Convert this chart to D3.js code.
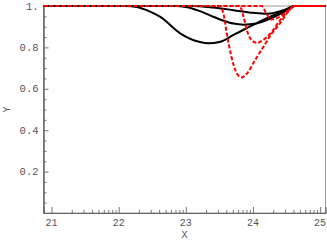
<!DOCTYPE html>
<html>
<head>
<meta charset="utf-8">
<script src="https://cdn.jsdelivr.net/npm/d3@7"></script>
<style>
  body { margin: 0; background: #fff; }
  text { font-family: 'Liberation Mono', 'DejaVu Sans Mono', monospace; }
</style>
</head>
<body>
<div id="vis"></div>
<script>

var width = 327,
  height = 245;

var margin = { top: 6, right: 1.5, bottom: 32, left: 43.5 };

// Data
var xTicks = [ 21, 22, 23, 24, 25 ];
var xTickLabels = [ '21', '22', '23', '24', '25' ];
var yTicks = [ 0.2, 0.4, 0.6, 0.8, 1.0 ];
var yTickLabels = [ '0.2', '0.4', '0.6', '0.8', '1.' ];

var blackX1 = [ 20.88, 22.1, 22.27, 22.45, 22.62, 22.92, 23.21, 23.34, 23.5, 23.71, 23.95, 24.2, 24.45, 24.62, 25.08 ];
var blackY1 = [ 1, 1, 0.995, 0.975, 0.947, 0.867, 0.826, 0.82, 0.826, 0.86, 0.9, 0.94, 0.975, 1, 1 ];

var blackX2 = [ 20.88, 22.85, 23.0, 23.21, 23.36, 23.55, 23.71, 23.86, 24.05, 24.3, 24.5, 24.62, 25.08 ];
var blackY2 = [ 1, 1, 0.995, 0.975, 0.955, 0.93, 0.915, 0.91, 0.915, 0.945, 0.978, 1, 1 ];

var blackX3 = [ 20.88, 23.1, 23.4, 23.71, 24.0, 24.2, 24.35, 24.5, 24.62, 25.08 ];
var blackY3 = [ 1, 1, 0.993, 0.98, 0.967, 0.962, 0.97, 0.985, 1, 1 ];

var redX1 = [ 20.88, 23.5, 23.56, 23.61, 23.68, 23.76, 23.83, 23.93, 24.03, 24.15, 24.28, 24.4, 24.52, 24.62, 25.08 ];
var redY1 = [ 1, 1, 0.963, 0.867, 0.754, 0.674, 0.655, 0.682, 0.738, 0.8, 0.867, 0.915, 0.97, 1, 1 ];

var redX2 = [ 20.88, 23.8, 23.86, 23.91, 23.96, 24.06, 24.15, 24.28, 24.4, 24.52, 24.62, 25.08 ];
var redY2 = [ 1, 1, 0.947, 0.883, 0.843, 0.822, 0.835, 0.875, 0.93, 0.975, 1, 1 ];

var redX3 = [ 20.88, 24.13, 24.2, 24.27, 24.35, 24.45, 24.55, 24.62, 25.08 ];
var redY3 = [ 1, 1, 0.963, 0.935, 0.94, 0.96, 0.985, 1, 1 ];

var blackSeries = [ [ blackX1, blackY1 ], [ blackX2, blackY2 ], [ blackX3, blackY3 ] ];
var redSeries = [ [ redX1, redY1 ], [ redX2, redY2 ], [ redX3, redY3 ] ];

/* Scales */

var x = d3.scaleLinear()
  .domain( [ 20.88, 25.08 ] )
  .range( [ margin.left, width - margin.right ] );

var y = d3.scaleLinear()
  .domain( [ 0, 1 ] )
  .range( [ height - margin.bottom, margin.top ] );

// log-style minor ticks within each unit on x, 0.05 steps on y
var xMinor = [];
xTicks.slice( 0, -1 ).forEach( t => {
  d3.range( 2, 10 ).forEach( k => xMinor.push( t + Math.log10( k ) ) );
} );
var yMinor = d3.range( 1, 20 ).map( i => i * 0.05 ).filter( v => Math.abs( v * 5 - Math.round( v * 5 ) ) > 1e-6 );

var line = d3.line()
  .x( d => x( d[ 0 ] ) )
  .y( d => y( d[ 1 ] ) )
  .curve( d3.curveMonotoneX );

function toPoints( s ) {
  return s[ 0 ].map( ( v, i ) => [ v, s[ 1 ][ i ] ] );
}

/* Drawing */

var svg = d3.select( '#vis' ).append( 'svg' )
  .attr( 'width', width )
  .attr( 'height', height );

// frame
svg.append( 'rect' )
  .attr( 'x', x.range()[ 0 ] )
  .attr( 'y', y.range()[ 1 ] )
  .attr( 'width', x.range()[ 1 ] - x.range()[ 0 ] )
  .attr( 'height', y.range()[ 0 ] - y.range()[ 1 ] )
  .attr( 'fill', 'none' )
  .attr( 'stroke', '#999' )
  .attr( 'stroke-width', 1 );

// x axis (ticks point inward)
var xAxis = svg.append( 'g' )
  .attr( 'transform', 'translate(0,' + y.range()[ 0 ] + ')' );

xAxis.call( d3.axisTop( x ).tickValues( xMinor ).tickSize( 3 ).tickFormat( '' ) );
xAxis.append( 'g' )
  .call( d3.axisTop( x ).tickValues( xTicks ).tickSize( 6 ).tickFormat( '' ) );
xAxis.selectAll( '.domain' ).attr( 'stroke', '#666' );
xAxis.selectAll( '.tick line' ).attr( 'stroke', '#777' );

svg.append( 'g' )
  .selectAll( 'text.xlabel' )
  .data( xTicks )
  .enter().append( 'text' )
    .attr( 'class', 'xlabel' )
    .attr( 'x', d => x( d ) )
    .attr( 'y', y.range()[ 0 ] + 13 )
    .attr( 'text-anchor', 'middle' )
    .attr( 'fill', '#555' )
    .style( 'font-size', '10px' )
    .text( ( d, i ) => xTickLabels[ i ] );

// y axis
var yAxis = svg.append( 'g' )
  .attr( 'transform', 'translate(' + x.range()[ 0 ] + ',0)' );

yAxis.call( d3.axisRight( y ).tickValues( yMinor ).tickSize( 3 ).tickFormat( '' ) );
yAxis.append( 'g' )
  .call( d3.axisRight( y ).tickValues( yTicks ).tickSize( 5 ).tickFormat( '' ) );
yAxis.selectAll( '.domain' ).attr( 'stroke', '#666' );
yAxis.selectAll( '.tick line' ).attr( 'stroke', '#777' );

svg.append( 'g' )
  .selectAll( 'text.ylabel' )
  .data( yTicks )
  .enter().append( 'text' )
    .attr( 'class', 'ylabel' )
    .attr( 'x', x.range()[ 0 ] - 5 )
    .attr( 'y', d => y( d ) )
    .attr( 'dy', '0.35em' )
    .attr( 'text-anchor', 'end' )
    .attr( 'fill', '#555' )
    .style( 'font-size', '10.5px' )
    .text( ( d, i ) => yTickLabels[ i ] );

// axis titles
svg.append( 'text' )
  .attr( 'x', ( x.range()[ 0 ] + x.range()[ 1 ] ) / 2 )
  .attr( 'y', 238 )
  .attr( 'text-anchor', 'middle' )
  .attr( 'fill', '#555' )
  .style( 'font-size', '10px' )
  .text( 'X' );

svg.append( 'text' )
  .attr( 'transform', 'translate(10,' + ( ( y.range()[ 0 ] + y.range()[ 1 ] ) / 2 ) + ')rotate(-90)' )
  .attr( 'text-anchor', 'middle' )
  .attr( 'fill', '#555' )
  .style( 'font-size', '10px' )
  .text( 'Y' );

// curves
svg.append( 'g' )
  .selectAll( 'path.black' )
  .data( blackSeries )
  .enter().append( 'path' )
    .attr( 'class', 'black' )
    .attr( 'd', d => line( toPoints( d ) ) )
    .attr( 'fill', 'none' )
    .attr( 'stroke', '#000' )
    .attr( 'stroke-width', 2 );

svg.append( 'g' )
  .selectAll( 'path.red' )
  .data( redSeries )
  .enter().append( 'path' )
    .attr( 'class', 'red' )
    .attr( 'd', d => line( toPoints( d ) ) )
    .attr( 'fill', 'none' )
    .attr( 'stroke', '#ff0000' )
    .attr( 'stroke-width', 2 )
    .attr( 'stroke-dasharray', '4,2' );

</script>
</body>
</html>
